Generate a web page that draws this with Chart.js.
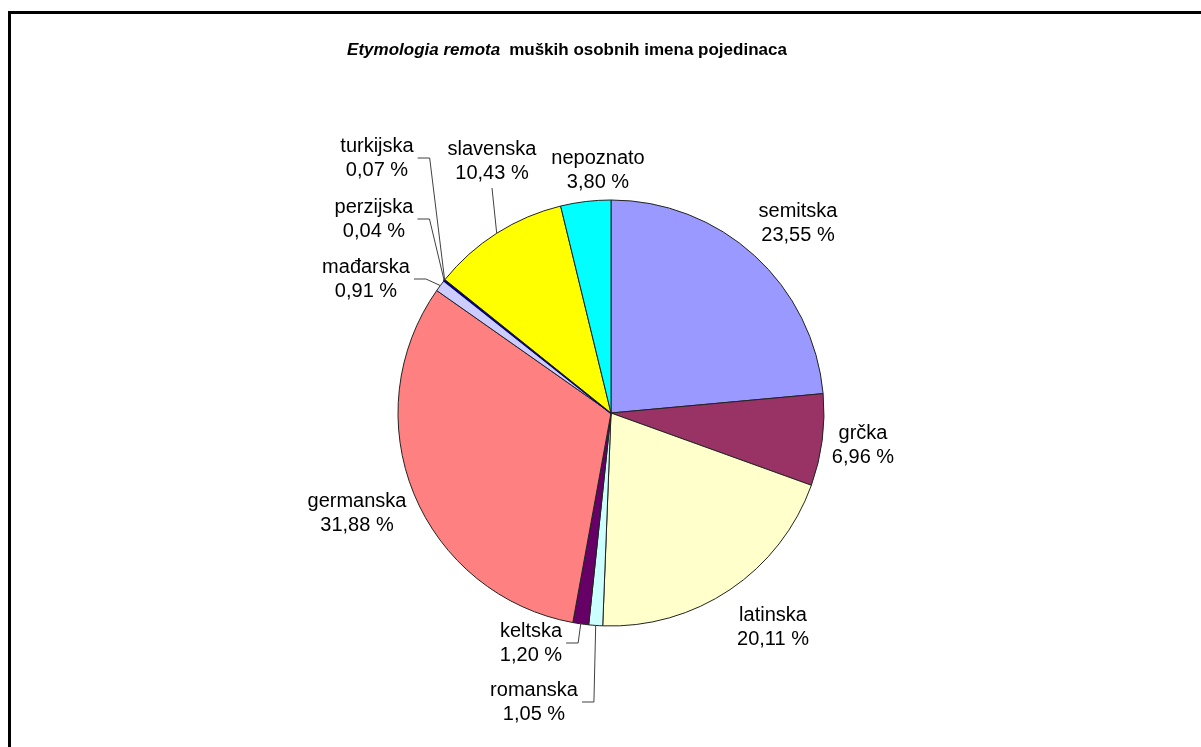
<!DOCTYPE html>
<html><head><meta charset="utf-8">
<script src="https://cdn.jsdelivr.net/npm/chart.js@4.4.0/dist/chart.umd.min.js"></script>
<style>html,body{margin:0;padding:0;background:#fff;overflow:hidden}canvas{display:block}</style>
</head><body>
<canvas id="c" width="1201" height="747"></canvas>
<script>
// ---- data ----
const categories = ['semitska','grčka','latinska','romanska','keltska','germanska','mađarska','perzijska','turkijska','slavenska','nepoznato'];
const shares = [23.55, 6.96, 20.11, 1.05, 1.20, 31.88, 0.91, 0.04, 0.07, 10.43, 3.80];
const sliceColors = ['#9999FF','#993366','#FFFFCC','#CCFFFF','#660066','#FF8080','#CCCCFF','#000080','#000080','#FFFF00','#00FFFF'];
const sliceBorders = ['#222','#222','#222','#222','#222','#222','#222','#000080','#000080','#222','#222'];
const sliceBorderWidths = [1,1,1,1,1,1,1,2,2,1,1];
const titleItalic = 'Etymologia remota';
const titleRest = 'muških osobnih imena pojedinaca';

// ---- label layout (offsets from pie centre) ----
const labelLayout = {
  'semitska':  {dx: 187, dy: -190},
  'grčka':     {dx: 252, dy: 32},
  'latinska':  {dx: 162, dy: 214},
  'romanska':  {dx: -77, dy: 289, leader: 'side'},
  'keltska':   {dx: -80, dy: 230, leader: 'side'},
  'germanska': {dx: -254, dy: 100},
  'mađarska':  {dx: -245, dy: -134, leader: 'side'},
  'perzijska': {dx: -237, dy: -194, leader: 'side'},
  'turkijska': {dx: -234, dy: -255, leader: 'side'},
  'slavenska': {dx: -119, dy: -252, leader: 'below'},
  'nepoznato': {dx: -13, dy: -243}
};
const FONT = '"Liberation Sans", Arial, sans-serif';

function fmt(v){ return v.toFixed(2).replace('.', ',') + ' %'; }

const decor = {
  id: 'decor',
  afterDraw(chart){
    const ctx = chart.ctx;
    ctx.save();
    // frame
    ctx.fillStyle = '#000';
    ctx.fillRect(8, 11, 1201, 3);
    ctx.fillRect(8, 11, 3, 747);
    // title
    ctx.textBaseline = 'alphabetic';
    ctx.textAlign = 'left';
    ctx.font = 'italic bold 17px ' + FONT;
    const w1 = ctx.measureText(titleItalic).width;
    ctx.font = 'bold 17px ' + FONT;
    const w2 = ctx.measureText(titleRest).width;
    const gap = 9;
    let x0 = 567 - (w1 + gap + w2) / 2;
    ctx.font = 'italic bold 17px ' + FONT;
    ctx.fillText(titleItalic, x0, 55);
    ctx.font = 'bold 17px ' + FONT;
    ctx.fillText(titleRest, x0 + w1 + gap, 55);

    // labels
    const meta = chart.getDatasetMeta(0);
    ctx.font = '20px ' + FONT;
    ctx.textAlign = 'center';
    ctx.textBaseline = 'middle';
    meta.data.forEach((arc, i) => {
      const name = categories[i];
      const L = labelLayout[name];
      const cx = arc.x, cy = arc.y;
      const lx = cx + L.dx, ly = cy + L.dy;
      const line2 = fmt(shares[i]);
      ctx.fillStyle = '#000';
      ctx.fillText(name, lx, ly - 12);
      ctx.fillText(line2, lx, ly + 12);
      if (L.leader) {
        const mid = (arc.startAngle + arc.endAngle) / 2;
        const ax = cx + Math.cos(mid) * arc.outerRadius;
        const ay = cy + Math.sin(mid) * arc.outerRadius;
        const w = Math.max(ctx.measureText(name).width, ctx.measureText(line2).width);
        ctx.strokeStyle = '#404040';
        ctx.lineWidth = 1;
        ctx.beginPath();
        if (L.leader === 'side') {
          const sx = lx + w / 2 + 4;
          ctx.moveTo(sx, ly);
          ctx.lineTo(sx + 12, ly);
          ctx.lineTo(ax, ay);
        } else {
          ctx.moveTo(lx, ly + 27);
          ctx.lineTo(ax, ay);
        }
        ctx.stroke();
      }
    });
    ctx.restore();
  }
};

new Chart(document.getElementById('c'), {
  type: 'pie',
  data: {
    labels: categories,
    datasets: [{
      data: shares,
      backgroundColor: sliceColors,
      borderColor: sliceBorders,
      borderWidth: sliceBorderWidths,
      radius: 213,
      clip: false
    }]
  },
  options: {
    responsive: false,
    animation: false,
    devicePixelRatio: 1,
    layout: { padding: { left: 398, right: 377, top: 200, bottom: 121 } },
    plugins: { legend: { display: false }, tooltip: { enabled: false }, title: { display: false } }
  },
  plugins: [decor]
});
</script>
</body></html>
